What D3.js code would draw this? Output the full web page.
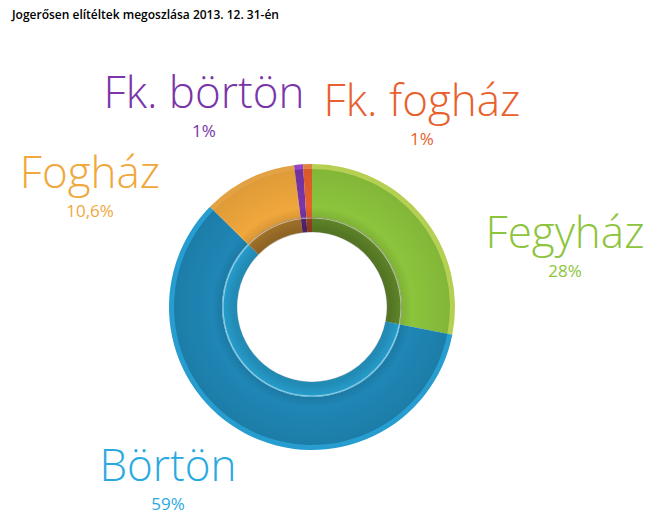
<!DOCTYPE html>
<html><head><meta charset="utf-8">
<script src="https://cdn.jsdelivr.net/npm/d3@7"></script>
<style>body{margin:0;background:#fff}</style>
</head><body>
<svg id="chart" width="667" height="524"></svg>
<script>
const categories = ["Fegyház", "Börtön", "Fogház", "Fk. börtön", "Fk. fogház"];
const values = [28, 59, 10.6, 1, 1];
const valueLabels = ["28%", "59%", "10,6%", "1%", "1%"];
const colors = ["#8cc43c", "#1f86b5", "#f0a73c", "#7a35a8", "#e8602c"];
const textColors = ["#8cc43c", "#2aa9e0", "#f0a73c", "#7a35a8", "#e8602c"];
const rimColors = ["#c4e05a", "#2aa9e0", "#f5b04a", "#a24bd6", "#f58b4a"];
const labelPos = [[565, 248], [168, 481], [90, 188], [204, 108], [422, 116]];

const svg = d3.select("#chart");
svg.append("text").attr("x", 12).attr("y", 19)
  .attr("font-family", "Open Sans, sans-serif").attr("font-size", 12).attr("font-weight", 600)
  .text("Jogerősen elítéltek megoszlása 2013. 12. 31-én");

const cx = 312, cy = 307, R = 143, r0 = 75;
const pie = d3.pie().sort(null).value(d => d)(values);
const g = svg.append("g").attr("transform", `translate(${cx},${cy})`);

const defs = svg.append("defs");
const grad = defs.append("radialGradient").attr("id", "shade")
  .attr("cx", 0).attr("cy", 0).attr("r", R).attr("gradientUnits", "userSpaceOnUse");
grad.append("stop").attr("offset", 0.55).attr("stop-color", "#000").attr("stop-opacity", 0.2);
grad.append("stop").attr("offset", 0.7).attr("stop-color", "#000").attr("stop-opacity", 0);
grad.append("stop").attr("offset", 1).attr("stop-color", "#000").attr("stop-opacity", 0.08);

g.selectAll("path.rim").data(pie).join("path").attr("class", "rim")
  .attr("d", d3.arc().innerRadius(R - 6).outerRadius(R))
  .attr("fill", (d, i) => rimColors[i]);
g.selectAll("path.band").data(pie).join("path").attr("class", "band")
  .attr("d", d3.arc().innerRadius(90).outerRadius(R - 5))
  .attr("fill", (d, i) => colors[i]);
g.selectAll("path.inner").data(pie).join("path").attr("class", "inner")
  .attr("d", d3.arc().innerRadius(r0).outerRadius(90))
  .attr("fill", (d, i) => i === 1 ? "#2aaee2" : d3.color(colors[i]).darker(0.8));
g.append("circle").attr("r", R).attr("fill", "url(#shade)").attr("pointer-events", "none");
g.append("circle").attr("r", r0 - 0.5).attr("fill", "#fff");
g.append("circle").attr("r", 89).attr("fill", "none").attr("stroke", "#fff").attr("stroke-opacity", 0.5).attr("stroke-width", 1.2);

const labels = svg.append("g").attr("font-family", "Open Sans, sans-serif").attr("text-anchor", "middle");
categories.forEach((c, i) => {
  const [x, y] = labelPos[i];
  labels.append("text").attr("x", x).attr("y", y).attr("font-size", 44).attr("font-weight", 300)
    .attr("fill", textColors[i]).text(c);
  labels.append("text").attr("x", x).attr("y", y + 29).attr("font-size", 17)
    .attr("fill", textColors[i]).text(valueLabels[i]);
});
</script>
</body></html>
